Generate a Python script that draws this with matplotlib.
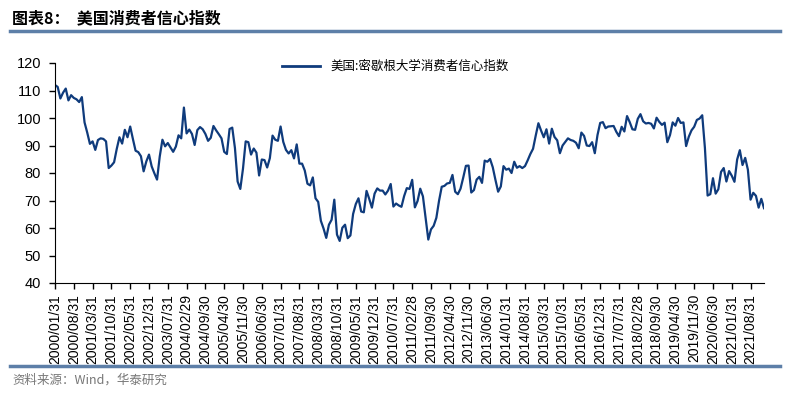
import numpy as np
import pandas as pd
import matplotlib
matplotlib.use("Agg")
import matplotlib.pyplot as plt
from matplotlib.lines import Line2D

plt.rcParams['font.family'] = ['Liberation Sans', 'Noto Sans CJK SC', 'DejaVu Sans']

# 美国:密歇根大学消费者信心指数, 月度 2000/01 - 2022/01
werte = [
    112.0, 111.3, 107.1, 109.2, 110.7, 106.4, 108.3, 107.3, 106.8, 105.8, 107.6, 98.4,   # 2000
    94.7, 90.6, 91.5, 88.4, 92.0, 92.6, 92.4, 91.5, 81.8, 82.7, 83.9, 88.8,              # 2001
    93.0, 90.7, 95.7, 93.0, 96.9, 92.4, 88.1, 87.6, 86.1, 80.6, 84.2, 86.7,              # 2002
    82.4, 79.9, 77.6, 86.0, 92.1, 89.7, 90.9, 89.3, 87.7, 89.6, 93.7, 92.6,              # 2003
    103.8, 94.4, 95.8, 94.2, 90.2, 95.6, 96.7, 95.9, 94.2, 91.7, 92.8, 97.1,             # 2004
    95.5, 94.1, 92.6, 87.7, 86.9, 96.0, 96.5, 89.1, 76.9, 74.2, 81.6, 91.5,              # 2005
    91.2, 86.7, 88.9, 87.4, 79.1, 84.9, 84.7, 82.0, 85.4, 93.6, 92.1, 91.7,              # 2006
    96.9, 91.3, 88.4, 87.1, 88.3, 85.3, 90.4, 83.4, 83.4, 80.9, 76.1, 75.5,              # 2007
    78.4, 70.8, 69.5, 62.6, 59.8, 56.4, 61.2, 63.0, 70.3, 57.6, 55.3, 60.1,              # 2008
    61.2, 56.3, 57.3, 65.1, 68.7, 70.8, 66.0, 65.7, 73.5, 70.6, 67.4, 72.5,              # 2009
    74.4, 73.6, 73.6, 72.2, 73.6, 76.0, 67.8, 68.9, 68.2, 67.7, 71.6, 74.5,              # 2010
    74.2, 77.5, 67.5, 69.8, 74.3, 71.5, 63.7, 55.8, 59.5, 60.8, 63.7, 69.9,              # 2011
    75.0, 75.3, 76.2, 76.4, 79.3, 73.2, 72.3, 74.3, 78.3, 82.6, 82.7, 72.9,              # 2012
    73.8, 77.6, 78.6, 76.4, 84.5, 84.1, 85.1, 82.1, 77.5, 73.2, 75.1, 82.5,              # 2013
    81.2, 81.6, 80.0, 84.1, 81.9, 82.5, 81.8, 82.5, 84.6, 86.9, 88.8, 93.6,              # 2014
    98.1, 95.4, 93.0, 95.9, 90.7, 96.1, 93.1, 91.9, 87.2, 90.0, 91.3, 92.6,              # 2015
    92.0, 91.7, 91.0, 89.0, 94.7, 93.5, 90.0, 89.8, 91.2, 87.2, 93.8, 98.2,              # 2016
    98.5, 96.3, 96.9, 97.0, 97.1, 95.0, 93.4, 96.8, 95.1, 100.7, 98.5, 95.9,             # 2017
    95.7, 99.7, 101.4, 98.8, 98.0, 98.2, 97.9, 96.2, 100.1, 98.6, 97.5, 98.3,            # 2018
    91.2, 93.8, 98.4, 97.2, 100.0, 98.2, 98.4, 89.8, 93.2, 95.5, 96.8, 99.3,             # 2019
    99.8, 101.0, 89.1, 71.8, 72.3, 78.1, 72.5, 74.1, 80.4, 81.8, 76.9, 80.7,             # 2020
    79.0, 76.8, 84.9, 88.3, 82.9, 85.5, 81.2, 70.3, 72.8, 71.7, 67.4, 70.6,              # 2021
    67.2,                                                                                # 2022
]
daten = pd.date_range("2000-01-31", periods=len(werte), freq="ME")
labels = [d.strftime("%Y/%m/%d") for d in daten]

linien_farbe = "#0F3B7C"
rahmen_farbe = "#5D7FA8"

fig = plt.figure(figsize=(7.9, 3.93), dpi=100)
ax = fig.add_axes([55 / 790, 1 - 283 / 393, (764 - 55) / 790, (283 - 63) / 393])

x = np.arange(len(werte))
ax.plot(x, werte, color=linien_farbe, lw=1.6)

ax.set_xlim(0, len(werte) - 1)
ax.set_ylim(40, 120)
ax.set_yticks(range(40, 121, 10))
ticks = list(range(0, len(werte), 7))
ax.set_xticks(ticks)
ax.set_xticklabels([labels[i] for i in ticks], rotation=90, fontsize=10)
ax.tick_params(axis='y', labelsize=10.5, length=4, width=1, direction='out', pad=6)
ax.tick_params(axis='x', length=4, width=1, direction='out', pad=4)
ax.spines['top'].set_visible(False)
ax.spines['right'].set_visible(False)

handle = Line2D([], [], color=linien_farbe, lw=2)
ax.legend([handle], ["美国:密歇根大学消费者信心指数"], loc='upper left',
          bbox_to_anchor=(0.305, 1.065), frameon=False, handlelength=3.0,
          prop={'family': ['Noto Sans CJK SC', 'DejaVu Sans'], 'size': 9})

# Titel und Rahmenlinien
fig.text(12 / 790, 1 - 18 / 393, "图表8：  美国消费者信心指数", fontsize=11.5, fontweight='bold',
         family=['Noto Sans CJK SC', 'DejaVu Sans'], va='center', ha='left')
fig.add_artist(Line2D([10 / 790, 780 / 790], [1 - 31 / 393] * 2, color=rahmen_farbe, lw=2.5))
fig.add_artist(Line2D([10 / 790, 780 / 790], [1 - 366 / 393] * 2, color=rahmen_farbe, lw=2.5))
fig.text(12 / 790, 1 - 380 / 393, "资料来源：Wind，华泰研究", fontsize=9, color='#777777',
         family=['Noto Sans CJK SC', 'DejaVu Sans'], va='center', ha='left')

fig.savefig("out.png", dpi=100)
